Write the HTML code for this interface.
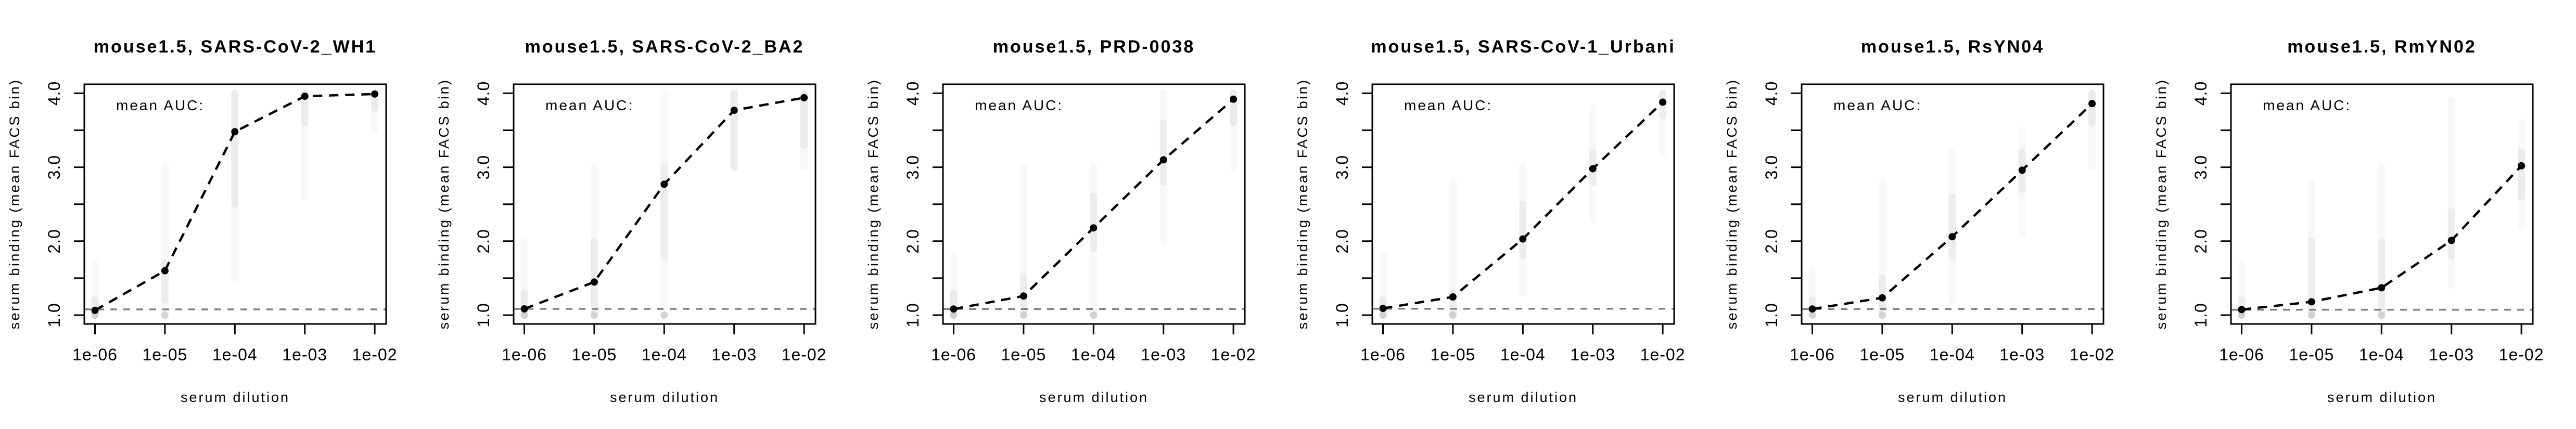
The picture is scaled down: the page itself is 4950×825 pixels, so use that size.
<!DOCTYPE html>
<html><head><meta charset="utf-8"><style>
html,body{margin:0;padding:0;background:#fff;}
svg{display:block;font-family:"Liberation Sans",Arial,sans-serif;}
</style></head><body>
<svg id="chart" width="4950" height="825" viewBox="0 0 4950 825" xmlns="http://www.w3.org/2000/svg"></svg>
<script>
const panelTitles = ["mouse1.5, SARS-CoV-2_WH1","mouse1.5, SARS-CoV-2_BA2","mouse1.5, PRD-0038","mouse1.5, SARS-CoV-1_Urbani","mouse1.5, RsYN04","mouse1.5, RmYN02"];
const dilutionExp = [-6,-5,-4,-3,-2];
const xTickLabels = ["1e-06","1e-05","1e-04","1e-03","1e-02"];
const yTicks = [1,1.5,2,2.5,3,3.5,4];
const yTickLabels = ["1.0","","2.0","","3.0","","4.0"];
const meanWH1 = [1.065,1.60,3.48,3.96,3.99];
const meanBA2 = [1.084,1.448,2.77,3.77,3.94];
const meanPRD = [1.083,1.258,2.18,3.10,3.92];
const meanUrbani = [1.091,1.246,2.03,2.98,3.88];
const meanRsYN04 = [1.083,1.234,2.06,2.96,3.86];
const meanRmYN02 = [1.075,1.18,1.37,2.01,3.02];
const baselines = [1.077,1.084,1.083,1.086,1.083,1.073];
const cloudLo = [[1,1,1.5,2.6,3.5],[1,1,1,3,3],[1,1,1,2,3],[1,1,1.3,2.3,3.2],[1,1,1.2,2.1,3],[1,1,1,1.4,2.2]];
const cloudHi = [[1.7,3,4,4,4],[2,3,4,4,4],[1.8,3,3,4,4],[1.8,2.8,3,3.8,4],[1.6,2.8,3.2,3.5,4],[1.7,2.8,3,3.9,3.6]];
const coreLo = [[1,1.2,2.5,3.6,3.8],[1,1,1.8,3,3.3],[1,1,1.9,2.8,3.6],[1,1,1.8,2.8,3.7],[1,1,1.8,2.7,3.6],[1,1,1,1.8,2.6]];
const coreHi = [[1.2,1.7,4,4,4],[1.3,2,3,4,4],[1.3,1.5,2.6,3.6,4],[1.2,1.3,2.5,3.2,4],[1.2,1.5,2.6,3.2,4],[1.2,2,2,2.4,3.2]];
const panelMeans = [meanWH1,meanBA2,meanPRD,meanUrbani,meanRsYN04,meanRmYN02];

const NS = "http://www.w3.org/2000/svg";
const svg = document.getElementById("chart");
const PW = 825, BX0 = 162, BX1 = 742, BY0 = 162, BY1 = 623;
function xScale(e){ return 182.5 + (e - (-6)) * 134.4; }
function yScale(v){ return 606 - (v - 1) * 142.2; }
function mk(tag, attrs, parent){
  const el = document.createElementNS(NS, tag);
  for (const k in attrs) el.setAttribute(k, attrs[k]);
  parent.appendChild(el);
  return el;
}
panelTitles.forEach((title, p) => {
  const g = mk("g", {transform: "translate(" + (p * PW) + ",0)"}, svg);
  
  
  const t = mk("text", {x: 452, y: 101, "text-anchor": "middle", "font-size": 34, "font-weight": "bold", "letter-spacing": 3}, g);
  t.textContent = title;
  
  
  dilutionExp.forEach((e, i) => {
    const cx = xScale(e);
    const c1 = mk("line", {x1: cx, x2: cx, y1: yScale(cloudLo[p][i]), y2: yScale(cloudHi[p][i]), stroke: "#f8f8f8", "stroke-width": 14, "stroke-linecap": "round"}, g);
    
    
    const c2 = mk("line", {x1: cx, x2: cx, y1: yScale(coreLo[p][i]), y2: yScale(coreHi[p][i]), stroke: "#e4e4e4", "stroke-opacity": 0.6, "stroke-width": 14, "stroke-linecap": "round"}, g);
    
    
    if (cloudLo[p][i] === 1) {
      const d = mk("circle", {cx: cx, cy: yScale(cloudLo[p][i]), r: 7, fill: "#d2d2d2"}, g);
      
      
    }
  });
  const bl = mk("line", {x1: BX0, x2: BX1, y1: yScale(baselines[p]), y2: yScale(baselines[p]), stroke: "#808080", "stroke-width": 3.5, "stroke-dasharray": "13 12"}, g);
  
  
  const pts = dilutionExp.map((e, i) => xScale(e) + "," + yScale(panelMeans[p][i])).join(" ");
  const ml = mk("polyline", {points: pts, fill: "none", stroke: "#000", "stroke-width": 4.5, "stroke-dasharray": "18 13"}, g);
  
  
  dilutionExp.forEach((e, i) => {
    const c = mk("circle", {cx: xScale(e), cy: yScale(panelMeans[p][i]), r: 7, fill: "#000"}, g);
    
    
  });
  const box = mk("rect", {x: BX0, y: BY0, width: BX1 - BX0, height: BY1 - BY0, fill: "none", stroke: "#000", "stroke-width": 3}, g);
  
  
  dilutionExp.forEach((e, i) => {
    const x = xScale(e);
    const tk = mk("line", {x1: x, x2: x, y1: BY1, y2: 643, stroke: "#000", "stroke-width": 3}, g);
    
    
    const lb = mk("text", {x: x, y: 693, "text-anchor": "middle", "font-size": 32, "letter-spacing": 1}, g);
    lb.textContent = xTickLabels[i];
    
    
  });
  const xt = mk("text", {x: 452, y: 773, "text-anchor": "middle", "font-size": 27, "letter-spacing": 3}, g);
  xt.textContent = "serum dilution";
  
  
  yTicks.forEach((v, i) => {
    const y = yScale(v);
    const tk = mk("line", {x1: 142, x2: BX0, y1: y, y2: y, stroke: "#000", "stroke-width": 3}, g);
    
    
    if (yTickLabels[i]) {
      const lb = mk("text", {x: 0, y: 0, transform: "translate(115," + y + ") rotate(-90)", "text-anchor": "middle", "font-size": 32, "letter-spacing": 1}, g);
      lb.textContent = yTickLabels[i];
      
      
    }
  });
  const yt = mk("text", {x: 0, y: 0, transform: "translate(37,392) rotate(-90)", "text-anchor": "middle", "font-size": 27, "letter-spacing": 3.4}, g);
  yt.textContent = "serum binding (mean FACS bin)";
  
  
  const auc = mk("text", {x: 223, y: 212, "font-size": 28, "letter-spacing": 3}, g);
  auc.textContent = "mean AUC:";
  
  
});
</script>
</body></html>
